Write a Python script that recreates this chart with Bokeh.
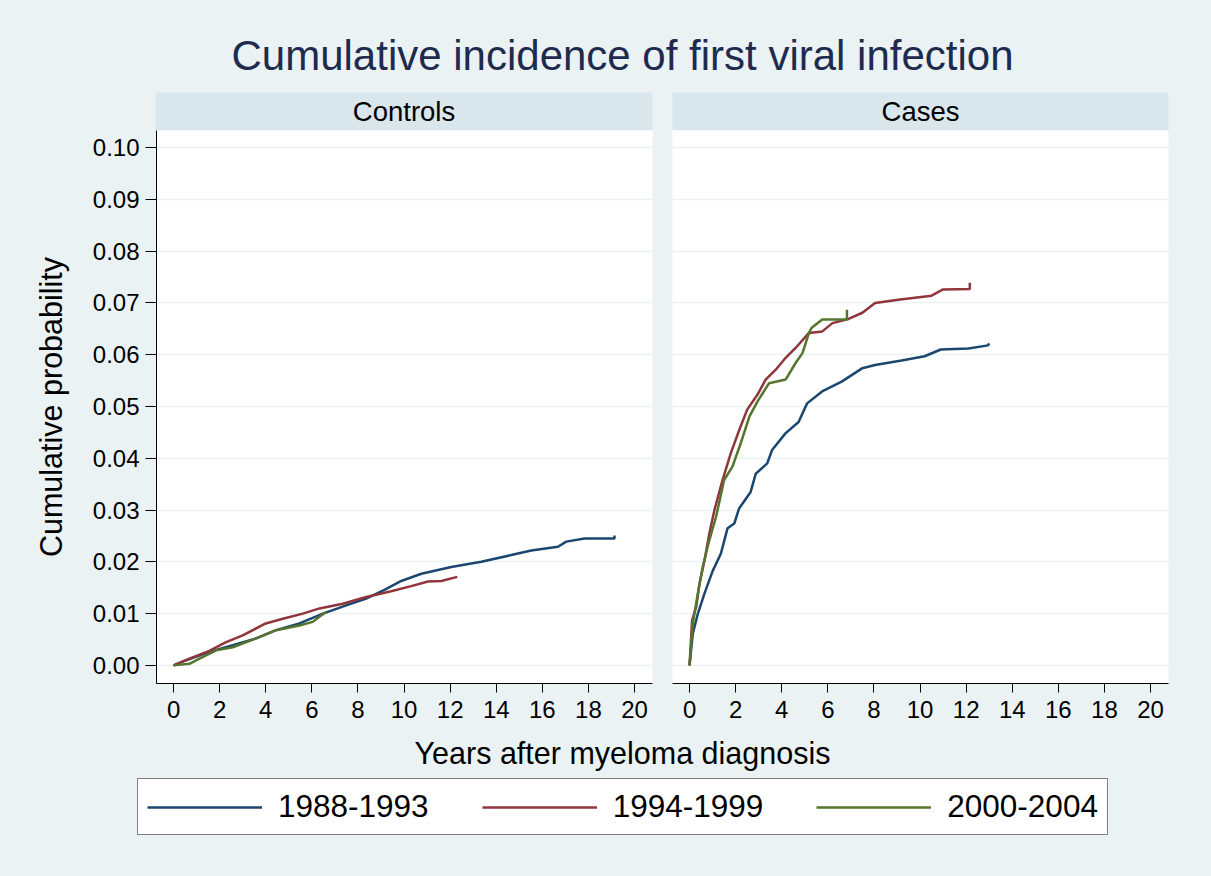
from bokeh.plotting import figure
from bokeh.layouts import column, row
from bokeh.models import (Range1d, FixedTicker, PrintfTickFormatter, Label, Legend,
                          LegendItem, Grid)
from bokeh.embed import file_html
from bokeh.resources import INLINE

# ---------------- data ----------------
period_labels = ["1988-1993", "1994-1999", "2000-2004"]
period_colors = ["#1a476f", "#90353b", "#55752f"]
panel_names = ["Controls", "Cases"]

# Controls
ctrl_t_88 = [0, 0.55, 1.55, 2.57, 3.58, 4.45, 5.46, 6.48, 7.49, 8.36, 9.15, 9.88, 10.75,
             12.05, 13.35, 14.65, 15.52, 16.68, 17.04, 17.83, 19.13, 19.13]
ctrl_p_88 = [0, 0.0010, 0.0026, 0.0039, 0.0052, 0.0068, 0.0081, 0.0100, 0.0116, 0.0129,
             0.0146, 0.0163, 0.0177, 0.0190, 0.0200, 0.0213, 0.0222, 0.0229, 0.0239,
             0.0245, 0.0245, 0.0251]
ctrl_t_94 = [0, 0.69, 1.55, 2.28, 3.0, 4.0, 4.74, 5.61, 6.33, 7.34, 8.36, 9.44, 10.31,
             11.04, 11.62, 12.31]
ctrl_p_94 = [0, 0.0013, 0.0028, 0.0045, 0.0058, 0.0081, 0.0090, 0.0100, 0.0110, 0.0119,
             0.0132, 0.0143, 0.0153, 0.0162, 0.0163, 0.0171]
ctrl_t_00 = [0, 0.69, 1.12, 1.85, 2.57, 3.58, 4.45, 5.46, 6.04, 6.33, 6.62]
ctrl_p_00 = [0, 0.0003, 0.0013, 0.0029, 0.0035, 0.0052, 0.0068, 0.0077, 0.0084, 0.0094,
             0.0103]

# Cases
case_t_88 = [0, 0.14, 0.36, 0.65, 1.0, 1.36, 1.65, 1.94, 2.15, 2.65, 2.87, 3.37, 3.58,
             4.16, 4.73, 5.1, 5.75, 6.6, 7.5, 8.05, 9.2, 10.2, 10.9, 12.1, 12.95, 13.0]
case_p_88 = [0, 0.0061, 0.0100, 0.0139, 0.0182, 0.0216, 0.0265, 0.0274, 0.0303, 0.0335,
             0.0370, 0.0390, 0.0416, 0.0448, 0.0470, 0.0506, 0.0529, 0.0548, 0.0574,
             0.0580, 0.0589, 0.0597, 0.0610, 0.0612, 0.0618, 0.0622]
case_t_94 = [0, 0.11, 0.29, 0.43, 0.65, 0.86, 1.08, 1.43, 1.79, 2.16, 2.5, 2.95, 3.3,
             3.74, 4.17, 4.6, 5.18, 5.76, 6.2, 6.9, 7.5, 8.05, 9.06, 10.5, 11.0, 12.16,
             12.16]
case_p_94 = [0, 0.0087, 0.0113, 0.0158, 0.0203, 0.0255, 0.0300, 0.0358, 0.0410, 0.0455,
             0.0494, 0.0523, 0.0552, 0.0571, 0.0594, 0.0613, 0.0642, 0.0645, 0.0661,
             0.0669, 0.0681, 0.0700, 0.0706, 0.0714, 0.0726, 0.0727, 0.0739]
case_t_00 = [0, 0.14, 0.36, 0.57, 0.86, 1.15, 1.5, 1.86, 2.22, 2.6, 2.95, 3.45, 4.17,
             4.6, 4.9, 5.18, 5.3, 5.76, 6.83, 6.83]
case_p_00 = [0, 0.0081, 0.0139, 0.0190, 0.0242, 0.0287, 0.0358, 0.0384, 0.0429, 0.0481,
             0.0510, 0.0545, 0.0552, 0.0584, 0.0603, 0.0642, 0.0652, 0.0668, 0.0668,
             0.0687]

y_ticks = [0.00, 0.01, 0.02, 0.03, 0.04, 0.05, 0.06, 0.07, 0.08, 0.09, 0.10]
x_ticks = [0, 2, 4, 6, 8, 10, 12, 14, 16, 18, 20]

title_text = "Cumulative incidence of first viral infection"
x_label = "Years after myeloma diagnosis"
y_label = "Cumulative probability"

# ---------------- style ----------------
BG = "#eaf2f3"
STRIP = "#d9e6eb"
FONT = "Liberation Sans"
TITLE_COLOR = "#1e2b4f"
LW = 2.5
W = 1211

X_RANGE = (-0.74, 20.78)
Y_RANGE = (-0.0035, 0.1033)


def blank_fig(w, h):
    f = figure(width=w, height=h, output_backend="svg", toolbar_location=None,
               x_axis_location=None, y_axis_location=None,
               x_range=Range1d(0, w), y_range=Range1d(0, h),
               min_border=0, min_border_left=0, min_border_right=0,
               min_border_top=0, min_border_bottom=0)
    f.outline_line_color = None
    f.background_fill_color = BG
    f.border_fill_color = BG
    f.grid.visible = False
    return f


# ---- title ----
title_fig = blank_fig(W, 92)
title_fig.add_layout(Label(x=622, y=37, text=title_text, text_align="center",
                           text_baseline="middle", text_font=FONT,
                           text_font_size="42px", text_color=TITLE_COLOR))


# ---- strips ----
def strip_fig(name, w, left, right):
    f = figure(frame_width=w, frame_height=38, output_backend="svg",
               toolbar_location=None, x_axis_location=None, y_axis_location=None,
               x_range=Range1d(0, 1), y_range=Range1d(0, 1),
               min_border_left=left, min_border_right=right,
               min_border_top=0, min_border_bottom=0)
    f.outline_line_color = None
    f.background_fill_color = STRIP
    f.border_fill_color = BG
    f.grid.visible = False
    f.add_layout(Label(x=0.5, y=0.5, text=name, text_align="center",
                       text_baseline="middle", text_font=FONT,
                       text_font_size="27.5px", text_color="black"))
    return f


strip_l = strip_fig(panel_names[0], 497, 155, 10)
strip_r = strip_fig(panel_names[1], 496, 10, 43)


# ---- panels ----
def panel(left, right, show_y, series):
    f = figure(frame_width=496, frame_height=553, output_backend="svg",
               toolbar_location=None,
               x_range=Range1d(*X_RANGE), y_range=Range1d(*Y_RANGE),
               y_axis_location="left" if show_y else None,
               min_border_left=left, min_border_right=right,
               min_border_top=0, min_border_bottom=47)
    f.outline_line_color = None
    f.background_fill_color = "white"
    f.border_fill_color = BG
    f.xgrid.visible = False
    grid = Grid(dimension=1, ticker=FixedTicker(ticks=y_ticks),
                grid_line_color=BG, grid_line_width=1.6)
    f.add_layout(grid)
    for ax in f.xaxis:
        ax.ticker = FixedTicker(ticks=x_ticks)
        ax.major_label_text_font = FONT
        ax.major_label_text_font_size = "24px"
        ax.major_label_text_color = "black"
        ax.major_tick_in = 0
        ax.major_tick_out = 9
        ax.minor_tick_out = 0
        ax.minor_tick_in = 0
        ax.major_label_standoff = 8
        ax.axis_line_color = "black"
        ax.major_tick_line_color = "black"
    if show_y:
        for ax in f.yaxis:
            ax.ticker = FixedTicker(ticks=y_ticks)
            ax.formatter = PrintfTickFormatter(format="%.2f")
            ax.major_label_text_font = FONT
            ax.major_label_text_font_size = "24px"
            ax.major_label_text_color = "black"
            ax.major_tick_in = 0
            ax.major_tick_out = 11
            ax.minor_tick_out = 0
            ax.minor_tick_in = 0
            ax.major_label_standoff = 6
            ax.axis_line_color = "black"
            ax.major_tick_line_color = "black"
            ax.axis_label = y_label
            ax.axis_label_text_font = FONT
            ax.axis_label_text_font_size = "30.5px"
            ax.axis_label_text_font_style = "normal"
            ax.axis_label_text_color = "black"
            ax.axis_label_standoff = 22
    for (t, pr), col in zip(series, period_colors):
        f.line(t, pr, line_color=col, line_width=LW)
    return f


panel_l = panel(156, 10, True,
                [(ctrl_t_88, ctrl_p_88), (ctrl_t_94, ctrl_p_94), (ctrl_t_00, ctrl_p_00)])
panel_r = panel(10, 43, False,
                [(case_t_88, case_p_88), (case_t_94, case_p_94), (case_t_00, case_p_00)])

# ---- bottom: x label + legend ----
bottom = blank_fig(W, 146)
bottom.add_layout(Label(x=622, y=124, text=x_label, text_align="center",
                        text_baseline="middle", text_font=FONT,
                        text_font_size="30.5px", text_color="black"))
items = []
nan = float("nan")
for lab, col in zip(period_labels, period_colors):
    r = bottom.line([nan], [nan], line_color=col, line_width=2.5)
    items.append(LegendItem(label=lab, renderers=[r]))
legend = Legend(items=items, orientation="horizontal", location=(137, 41),
                label_text_font=FONT, label_text_font_size="31.5px",
                label_text_color="black", glyph_width=115, glyph_height=30,
                label_standoff=16, spacing=53, padding=9, margin=0,
                border_line_color="black", border_line_width=1.5,
                background_fill_color="white", background_fill_alpha=1.0)
bottom.add_layout(legend)

p = column(title_fig, row(strip_l, strip_r), row(panel_l, panel_r), bottom,
           styles={"background-color": BG})

open("out.html", "w").write(file_html(p, INLINE))
